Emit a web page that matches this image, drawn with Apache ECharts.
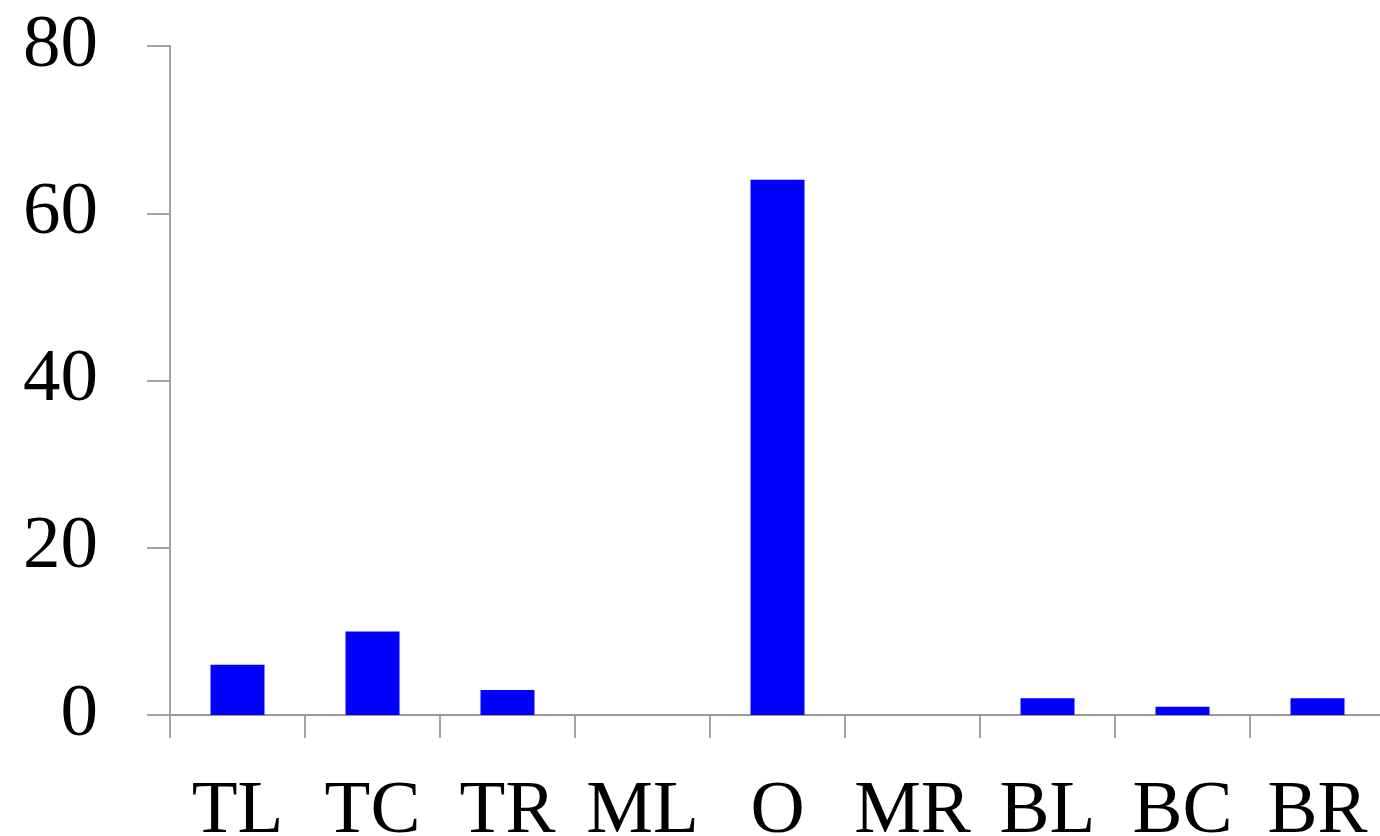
<!DOCTYPE html>
<html>
<head>
<meta charset="utf-8">
<script src="https://cdn.jsdelivr.net/npm/echarts@6/dist/echarts.min.js"></script>
<style>html,body{margin:0;padding:0;background:#fff}#c{width:1380px;height:836px}</style>
</head>
<body>
<div id="c"></div>
<script>
const categories = ['TL','TC','TR','ML','O','MR','BL','BC','BR'];
const values = [6, 10, 3, 0, 64, 0, 2, 1, 2];
const yTicks = [0, 20, 40, 60, 80];

const font = '"Liberation Serif", "DejaVu Serif", serif';
const axisColor = '#999999';
const chart = echarts.init(document.getElementById('c'));
chart.setOption({
  animation: false,
  backgroundColor: '#ffffff',
  grid: { left: 170, top: 46, width: 1215, height: 669, containLabel: false, outerBoundsMode: 'none' },
  xAxis: {
    type: 'category',
    data: categories,
    boundaryGap: true,
    axisLine: { show: true, lineStyle: { color: axisColor, width: 1.8 } },
    axisTick: { show: true, alignWithLabel: false, length: 23, lineStyle: { color: axisColor, width: 1.8 } },
    axisLabel: { color: '#000', fontFamily: font, fontSize: 75, margin: 60, interval: 0 },
    splitLine: { show: false }
  },
  yAxis: {
    type: 'value',
    min: yTicks[0],
    max: yTicks[yTicks.length - 1],
    interval: 20,
    axisLine: { show: true, lineStyle: { color: axisColor, width: 1.8 } },
    axisTick: { show: true, length: 23, lineStyle: { color: axisColor, width: 1.8 } },
    axisLabel: { color: '#000', fontFamily: font, fontSize: 75, margin: 72, padding: [0, 0, 12, 0] },
    splitLine: { show: false }
  },
  series: [{
    type: 'bar',
    data: values,
    barWidth: '40%',
    itemStyle: { color: '#0000ff' }
  }]
});
</script>
</body>
</html>
